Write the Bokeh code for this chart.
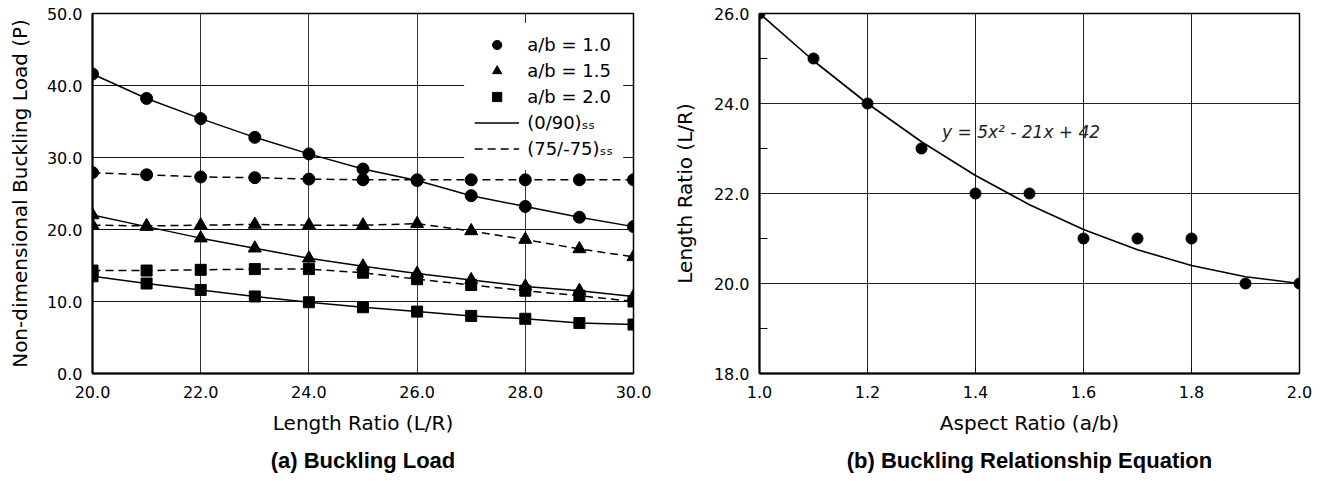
from bokeh.plotting import figure
from bokeh.layouts import row
from bokeh.models import (Range1d, FixedTicker, PrintfTickFormatter, Legend,
                          LegendItem, Title, Label)
from bokeh.embed import file_html
from bokeh.resources import INLINE

# ---------------- data: (a) Buckling Load ----------------
length_ratio = [20, 21, 22, 23, 24, 25, 26, 27, 28, 29, 30]
load_ab10_cross = [41.6, 38.2, 35.4, 32.8, 30.5, 28.4, 26.8, 24.7, 23.2, 21.7, 20.4]   # (0/90)ss
load_ab10_angle = [27.9, 27.6, 27.3, 27.2, 27.0, 26.9, 26.9, 26.9, 26.9, 26.9, 26.9]   # (75/-75)ss
load_ab15_cross = [22.0, 20.4, 18.8, 17.4, 16.0, 14.9, 13.9, 13.0, 12.1, 11.5, 10.7]
load_ab15_angle = [20.6, 20.5, 20.6, 20.7, 20.6, 20.6, 20.8, 19.8, 18.6, 17.3, 16.2]
load_ab20_cross = [13.5, 12.5, 11.6, 10.7, 9.9, 9.2, 8.6, 8.0, 7.6, 7.0, 6.8]
load_ab20_angle = [14.3, 14.3, 14.4, 14.5, 14.5, 14.0, 13.1, 12.3, 11.5, 10.8, 10.0]
lr_ticks = [20, 22, 24, 26, 28, 30]
load_ticks = [0, 10, 20, 30, 40, 50]

# ---------------- data: (b) Buckling Relationship Equation ----------------
aspect_ratio = [1.0, 1.1, 1.2, 1.3, 1.4, 1.5, 1.6, 1.7, 1.8, 1.9, 2.0]
lr_points = [26, 25, 24, 23, 22, 22, 21, 21, 21, 20, 20]
lr_fit = [26.0, 24.95, 24.0, 23.15, 22.4, 21.75, 21.2, 20.75, 20.4, 20.15, 20.0]
ar_ticks = [1.0, 1.2, 1.4, 1.6, 1.8, 2.0]
lr_ticks_b = [18, 20, 22, 24, 26]
lr_minor_b = [19, 21, 23, 25]
equation = "y = 5x\u00b2 - 21x + 42"

TICK_FONT = "DejaVu Sans"
LABEL_FONT = "DejaVu Sans"
TITLE_FONT = "Liberation Sans"


def style_axes(p):
    for ax in (p.xaxis[0], p.yaxis[0]):
        ax.axis_line_width = 2
        ax.axis_line_color = "black"
        ax.major_label_text_font = TICK_FONT
        ax.major_label_text_font_size = "16px"
        ax.major_label_text_color = "black"
        ax.axis_label_text_font = LABEL_FONT
        ax.axis_label_text_font_size = "20px"
        ax.axis_label_text_font_style = "normal"
        ax.axis_label_text_color = "black"
        ax.major_tick_out = 0
        ax.major_tick_in = 0
        ax.minor_tick_out = 0
        ax.minor_tick_in = 0
        ax.major_label_standoff = 10
    p.xaxis[0].major_label_standoff = 12
    p.outline_line_color = "black"
    p.outline_line_width = 1.5
    p.outline_line_alpha = 1.0
    p.background_fill_color = "white"
    p.border_fill_color = "white"


# ================= left figure =================
p1 = figure(width=660, height=481, x_range=Range1d(20, 30), y_range=Range1d(0, 50),
            output_backend="svg", toolbar_location=None,
            min_border_left=92, min_border_right=27, min_border_top=13, min_border_bottom=108)
style_axes(p1)
p1.xaxis.ticker = FixedTicker(ticks=lr_ticks)
p1.yaxis.ticker = FixedTicker(ticks=load_ticks)
p1.xaxis.formatter = PrintfTickFormatter(format="%.1f")
p1.yaxis.formatter = PrintfTickFormatter(format="%.1f")
p1.xaxis.axis_label = "Length Ratio (L/R)"
p1.yaxis.axis_label = "Non-dimensional Buckling Load (P)"
p1.xaxis.axis_label_standoff = 10
p1.yaxis.axis_label_standoff = 12
p1.xgrid.ticker = FixedTicker(ticks=lr_ticks)
p1.ygrid.ticker = FixedTicker(ticks=load_ticks)
p1.xgrid.grid_line_color = "#333333"
p1.ygrid.grid_line_color = "#111111"
p1.xgrid.grid_line_width = 1
p1.ygrid.grid_line_width = 1

solid_w = 1.5
dash = "8 5"
r_solid = p1.line(length_ratio, load_ab10_cross, line_color="black", line_width=solid_w)
p1.line(length_ratio, load_ab15_cross, line_color="black", line_width=solid_w)
p1.line(length_ratio, load_ab20_cross, line_color="black", line_width=solid_w)
r_dash = p1.line(length_ratio, load_ab10_angle, line_color="black", line_width=solid_w, line_dash=dash)
p1.line(length_ratio, load_ab15_angle, line_color="black", line_width=solid_w, line_dash=dash)
p1.line(length_ratio, load_ab20_angle, line_color="black", line_width=solid_w, line_dash=dash)

m10 = p1.scatter(length_ratio, load_ab10_cross, marker="circle", size=12, color="black")
p1.scatter(length_ratio, load_ab10_angle, marker="circle", size=12, color="black")
m15 = p1.scatter(length_ratio, load_ab15_cross, marker="triangle", size=13, color="black")
p1.scatter(length_ratio, load_ab15_angle, marker="triangle", size=13, color="black")
m20 = p1.scatter(length_ratio, load_ab20_cross, marker="square", size=11, color="black")
p1.scatter(length_ratio, load_ab20_angle, marker="square", size=11, color="black")

legend = Legend(items=[
    LegendItem(label="a/b = 1.0", renderers=[m10]),
    LegendItem(label="a/b = 1.5", renderers=[m15]),
    LegendItem(label="a/b = 2.0", renderers=[m20]),
    LegendItem(label="(0/90)\u209b\u209b", renderers=[r_solid]),
    LegendItem(label="(75/-75)\u209b\u209b", renderers=[r_dash]),
], location="top_right")
legend.background_fill_color = "white"
legend.background_fill_alpha = 1.0
legend.border_line_alpha = 0
legend.label_text_font = LABEL_FONT
legend.label_text_font_size = "18px"
legend.label_text_color = "black"
legend.glyph_width = 45
legend.glyph_height = 23
legend.label_height = 23
legend.label_standoff = 8
legend.spacing = 3
legend.padding = 10
legend.margin = 10
p1.add_layout(legend)

p1.add_layout(Title(text="(a) Buckling Load", align="center", text_font=TITLE_FONT,
                    text_font_style="bold", text_font_size="22px", text_color="black",
                    standoff=16), "below")

# ================= right figure =================
p2 = figure(width=662, height=481, x_range=Range1d(1.0, 2.0), y_range=Range1d(18, 26),
            output_backend="svg", toolbar_location=None,
            min_border_left=99, min_border_right=23, min_border_top=13, min_border_bottom=108)
style_axes(p2)
p2.xaxis.ticker = FixedTicker(ticks=ar_ticks)
p2.yaxis.ticker = FixedTicker(ticks=lr_ticks_b, minor_ticks=lr_minor_b)
p2.xaxis.formatter = PrintfTickFormatter(format="%.1f")
p2.yaxis.formatter = PrintfTickFormatter(format="%.1f")
p2.yaxis.minor_tick_in = 8
p2.yaxis.minor_tick_line_color = "black"
p2.yaxis.minor_tick_line_width = 1
p2.xaxis.major_tick_in = 6
p2.xaxis.major_tick_line_color = "black"
p2.xaxis.axis_label = "Aspect Ratio (a/b)"
p2.yaxis.axis_label = "Length Ratio (L/R)"
p2.xaxis.axis_label_standoff = 10
p2.yaxis.axis_label_standoff = 14
p2.xgrid.ticker = FixedTicker(ticks=ar_ticks)
p2.ygrid.ticker = FixedTicker(ticks=lr_ticks_b)
p2.xgrid.grid_line_color = "#222222"
p2.ygrid.grid_line_color = "#222222"

p2.line(aspect_ratio, lr_fit, line_color="black", line_width=1.6)
p2.scatter(aspect_ratio, lr_points, marker="circle", size=11, color="black")

p2.add_layout(Label(x=1.338, y=23.36, text=equation, text_font=LABEL_FONT,
                    text_font_style="italic", text_font_size="17px", text_color="#222222",
                    text_baseline="middle", text_align="left"))

p2.add_layout(Title(text="(b) Buckling Relationship Equation", align="center", text_font=TITLE_FONT,
                    text_font_style="bold", text_font_size="22px", text_color="black",
                    standoff=16), "below")

layout = row(p1, p2, spacing=0)
open("out.html", "w").write(file_html(layout, INLINE))
